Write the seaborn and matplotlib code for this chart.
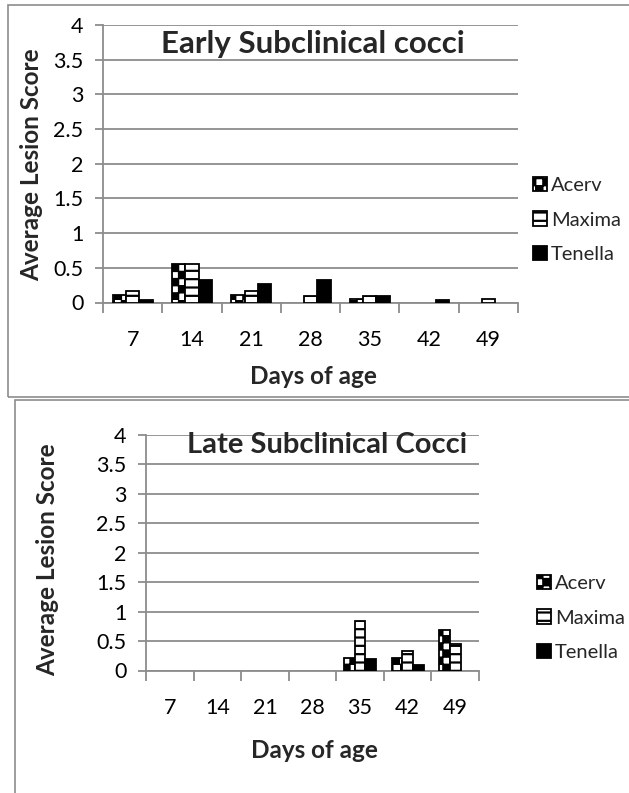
import warnings
warnings.filterwarnings("ignore")
import numpy as np
import pandas as pd
import matplotlib
matplotlib.use("Agg")
import matplotlib.pyplot as plt
import matplotlib.hatch as mhatch
from matplotlib.path import Path
from matplotlib.patches import Rectangle, Patch
import seaborn as sns

# ---------------- data ----------------
days = ["7", "14", "21", "28", "35", "42", "49"]
series = ["Acerv", "Maxima", "Tenella"]
early_acerv = [0.11, 0.56, 0.11, 0.0, 0.05, 0.0, 0.0]
early_maxima = [0.16, 0.56, 0.17, 0.10, 0.10, 0.0, 0.05]
early_tenella = [0.03, 0.33, 0.27, 0.33, 0.09, 0.03, 0.0]
late_acerv = [0.0, 0.0, 0.0, 0.0, 0.22, 0.22, 0.68]
late_maxima = [0.0, 0.0, 0.0, 0.0, 0.84, 0.33, 0.45]
late_tenella = [0.0, 0.0, 0.0, 0.0, 0.20, 0.10, 0.0]
yticks = [0, 0.5, 1, 1.5, 2, 2.5, 3, 3.5, 4]
ytick_labels = ["0", "0.5", "1", "1.5", "2", "2.5", "3", "3.5", "4"]


# ------------- custom checkerboard hatch -------------
class CheckerHatch(mhatch.HatchPatternBase):
    def __init__(self, hatch, density):
        k = hatch.count("c")
        self.n = 14 * k
        self.num_vertices = (self.n * self.n // 2) * 5 if k else 0

    def set_vertices_and_codes(self, vertices, codes):
        n = self.n
        s = 1.0 / n
        parts = []
        m = 0.06 * s
        for i in range(n):
            for j in range(n):
                if (i + j) % 2 == 0:
                    x0, y0 = i * s + m, j * s + m
                    x1, y1 = (i + 1) * s - m, (j + 1) * s - m
                    parts.append([[x0, y0], [x1, y0], [x1, y1], [x0, y1], [x0, y0]])
        vertices[:] = np.array(parts).reshape(-1, 2)
        codes[:] = np.tile([Path.MOVETO, Path.LINETO, Path.LINETO, Path.LINETO,
                            Path.CLOSEPOLY], len(parts))


mhatch._hatch_types.append(CheckerHatch)

sns.set_theme(style="white")
plt.rcParams["font.family"] = ["Lato", "DejaVu Sans"]
plt.rcParams["hatch.linewidth"] = 1.6
plt.rcParams["hatch.color"] = "black"

GRAY = "#8c8c8c"

fig = plt.figure(figsize=(6.29, 7.93), dpi=100)

# chart frames
fig.patches.append(Rectangle((8 / 629, 1 - 397 / 793), 1.0, 392 / 793,
                             transform=fig.transFigure, fill=False,
                             edgecolor=GRAY, linewidth=1.2))
fig.patches.append(Rectangle((15 / 629, -0.05), 1.0, 1 - 400 / 793 + 0.05,
                             transform=fig.transFigure, fill=False,
                             edgecolor=GRAY, linewidth=1.2))

styles = {
    "Acerv": dict(facecolor="white", hatch="c"),
    "Maxima": dict(facecolor="white", hatch="--"),
    "Tenella": dict(facecolor="black", hatch=None),
}


def make_chart(rect, a, m, t, title, title_xy, title_fs, ylab_xy, xlab_xy,
               leg_xy):
    ax = fig.add_axes(rect)
    df = pd.DataFrame({
        "day": days * 3,
        "series": [series[0]] * 7 + [series[1]] * 7 + [series[2]] * 7,
        "score": list(a) + list(m) + list(t),
    })
    sns.barplot(data=df, x="day", y="score", hue="series", order=days,
                hue_order=series, palette=["white"] * 3, width=0.675,
                edgecolor="black", linewidth=1.3, legend=False, ax=ax,
                zorder=3)
    for cont, name in zip(ax.containers, series):
        for p in cont.patches:
            p.set_facecolor(styles[name]["facecolor"])
            p.set_hatch(styles[name]["hatch"])
            p.set_edgecolor("black")
            p.set_linewidth(1.3 if p.get_height() > 0 else 0)
    ax.set_ylim(0, 4)
    ax.set_xlim(-0.5, 6.5)
    ax.set_yticks(yticks)
    ax.set_yticklabels(ytick_labels, fontsize=15.5)
    ax.yaxis.grid(True, color=GRAY, linewidth=1.3, zorder=0)
    ax.xaxis.grid(False)
    ax.set_axisbelow(True)
    for s in ["top", "right"]:
        ax.spines[s].set_visible(False)
    for s in ["left", "bottom"]:
        ax.spines[s].set_color(GRAY)
        ax.spines[s].set_linewidth(1.3)
    ax.tick_params(axis="y", length=6, width=1.3, color=GRAY, pad=8,
                   direction="out", left=True)
    ax.set_xticks(range(len(days)))
    ax.set_xticklabels(days, fontsize=15.5)
    ax.set_xticks(np.arange(-0.5, 7, 1.0), minor=True)
    ax.tick_params(axis="x", which="major", length=0, pad=20)
    ax.tick_params(axis="x", which="minor", length=7, width=1.3, color=GRAY,
                   direction="out", bottom=True)
    ax.set_xlabel("")
    ax.set_ylabel("")
    for lab in ax.get_xticklabels() + ax.get_yticklabels():
        lab.set_color("black")
    fig.text(title_xy[0] / 629, 1 - title_xy[1] / 793, title,
             fontsize=title_fs, fontweight="bold", ha="center", va="center")
    fig.text(ylab_xy[0] / 629, 1 - ylab_xy[1] / 793, "Average Lesion Score",
             fontsize=17.5, fontweight="bold", rotation=90, ha="center",
             va="center")
    fig.text(xlab_xy[0] / 629, 1 - xlab_xy[1] / 793, "Days of age",
             fontsize=17.5, fontweight="bold", ha="center", va="center")
    handles = [Patch(facecolor=styles[n]["facecolor"], hatch=styles[n]["hatch"],
                     edgecolor="black", linewidth=1.3) for n in series]
    ax.legend(handles, series, loc="center left",
              bbox_to_anchor=(leg_xy[0] / 629, 1 - leg_xy[1] / 793),
              bbox_transform=fig.transFigure, frameon=False,
              fontsize=14.5, handlelength=0.7, handleheight=0.7,
              handletextpad=0.2, labelspacing=0.85, borderpad=0)
    return ax


make_chart([103 / 629, 1 - 302.5 / 793, 415 / 629, 277.5 / 793],
           early_acerv, early_maxima, early_tenella,
           "Early Subclinical cocci", (313, 44), 22.5, (32, 165), (313, 376),
           (523, 220))
make_chart([146 / 629, 1 - 670.5 / 793, 333 / 629, 235.5 / 793],
           late_acerv, late_maxima, late_tenella,
           "Late Subclinical Cocci", (327, 445), 21, (48, 560), (314, 751),
           (527, 618))

fig.savefig("out.png", dpi=100)
